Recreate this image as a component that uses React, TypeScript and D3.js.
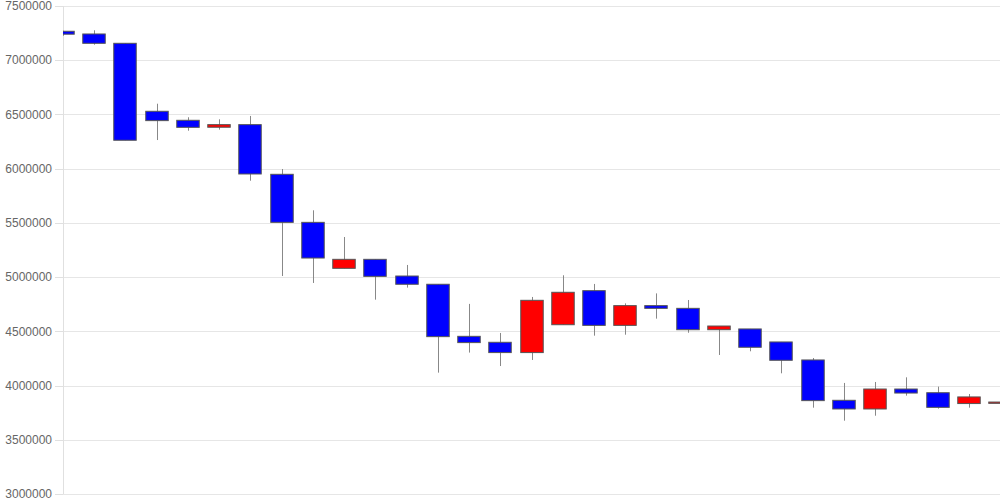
import React from "react";
import * as d3 from "d3";

const categories = Array.from({ length: 31 }, (_, i) => `P${i + 1}`);
const opens = [7267000, 7242000, 7156000, 6529000, 6446000, 6382000, 6406000, 5948000, 5505000, 5081000, 5164000, 5010000, 4934000, 4454000, 4399000, 4304000, 4561000, 4875000, 4555000, 4737000, 4712000, 4515000, 4522000, 4402000, 4236000, 3864000, 3784000, 3968000, 3934000, 3834000, 3836000];
const closes = [7240000, 7156000, 6262000, 6443000, 6381000, 6406000, 5951000, 5505000, 5176000, 5164000, 5007000, 4934000, 4451000, 4396000, 4304000, 4786000, 4860000, 4555000, 4737000, 4712000, 4515000, 4549000, 4353000, 4233000, 3861000, 3784000, 3968000, 3931000, 3799000, 3895000, 3848000];
const highs = [7272000, 7276000, 7156000, 6599000, 6474000, 6455000, 6486000, 5997000, 5616000, 5370000, 5164000, 5112000, 4934000, 4753000, 4485000, 4817000, 5017000, 4937000, 4758000, 4850000, 4789000, 4549000, 4522000, 4402000, 4254000, 4024000, 4033000, 4076000, 3990000, 3922000, 3913000];
const lows = [7225000, 7143000, 6262000, 6264000, 6350000, 6360000, 5889000, 5010000, 4946000, 5081000, 4792000, 4903000, 4119000, 4304000, 4180000, 4236000, 4561000, 4460000, 4469000, 4617000, 4487000, 4282000, 4316000, 4113000, 3796000, 3676000, 3722000, 3907000, 3787000, 3796000, 3796000];
const yTicks = [3000000, 3500000, 4000000, 4500000, 5000000, 5500000, 6000000, 6500000, 7000000, 7500000];

const W = 1000;
const H = 500;
const left = 63;
const right = 1000;
const top = 6;
const bottom = 494;

export default function App() {
  const x = d3.scalePoint<string>().domain(categories).range([left, right]);
  const y = d3.scaleLinear().domain([3000000, 7500000]).range([bottom, top]);
  const step = x.step();
  const bw = step * 0.72;

  return (
    <svg width={W} height={H} style={{ position: "absolute", left: 0, top: 0, background: "#fff" }}>
      <defs>
        <clipPath id="plot">
          <rect x={left} y={top} width={right - left} height={bottom - top} />
        </clipPath>
      </defs>
      {yTicks.map((t) => (
        <g key={t}>
          <line x1={left} x2={W} y1={Math.round(y(t)) + 0.5} y2={Math.round(y(t)) + 0.5} stroke="#e6e6e6" />
          <line x1={55} x2={left} y1={Math.round(y(t)) + 0.5} y2={Math.round(y(t)) + 0.5} stroke="#e0e0e0" />
          <text
            x={52}
            y={y(t)}
            dy="0.35em"
            textAnchor="end"
            fontSize={12}
            fill="#666"
            fontFamily="Liberation Sans, Arial, sans-serif"
          >
            {t}
          </text>
        </g>
      ))}
      <line x1={left + 0.5} x2={left + 0.5} y1={top} y2={bottom} stroke="#e0e0e0" />
      <g clipPath="url(#plot)">
        {categories.map((c, i) => {
          const cx = Math.round(x(c) as number);
          const o = opens[i];
          const cl = closes[i];
          const yTop = y(Math.max(o, cl));
          const yBot = y(Math.min(o, cl));
          const up = cl >= o;
          return (
            <g key={c}>
              <line x1={cx + 0.5} x2={cx + 0.5} y1={y(highs[i])} y2={y(lows[i])} stroke="#888" />
              <rect
                x={cx - bw / 2}
                y={yTop}
                width={bw}
                height={Math.max(1, yBot - yTop)}
                fill={up ? "#ff0000" : "#0000ff"}
                stroke="#555"
                strokeWidth={1}
              />
            </g>
          );
        })}
      </g>
    </svg>
  );
}
